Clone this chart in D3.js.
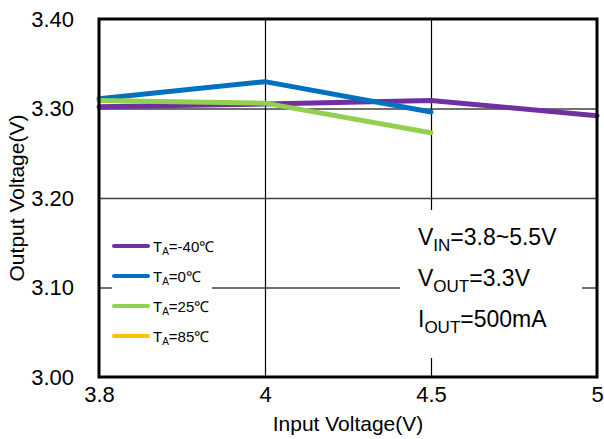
<!DOCTYPE html>
<html>
<head>
<meta charset="utf-8">
<script src="https://cdn.jsdelivr.net/npm/d3@7"></script>
<style>
body{margin:0;background:#fff;}
text{font-family:"Liberation Sans",Arial,sans-serif;fill:#000;}
</style>
</head>
<body>
<svg id="chart"></svg>
<script>
// data
var inputs=["3.8","4","4.5","5"]
var yTicks=[3.00,3.10,3.20,3.30,3.40]
var seriesNames=["-40","0","25","85"]
var seriesColors=["#7030A0","#0070C0","#92D050","#FFC000"]
var tMinus40=[3.302,3.305,3.309,3.292]
var t0=[3.311,3.330,3.296]
var t25=[3.309,3.306,3.273]
var t85=[]
var notes=[["V","IN","=3.8~5.5V"],["V","OUT","=3.3V"],["I","OUT","=500mA"]]

var screen={width:604,height:439}
var margins={left:99,right:7,top:19,bottom:62}
var graph={
    width:screen.width-margins.left-margins.right,
    height:screen.height-margins.top-margins.bottom
}

var svg=d3.select("#chart")
    .attr("width",screen.width)
    .attr("height",screen.height)

var target=svg.append("g")
    .attr("transform","translate("+margins.left+","+margins.top+")")

var xScale=d3.scalePoint()
    .domain(inputs)
    .range([0,graph.width])
var yScale=d3.scaleLinear()
    .domain([3.0,3.4])
    .range([graph.height,0])

// grid
target.append("g")
    .attr("class","ygrid")
    .call(d3.axisLeft(yScale).tickValues(yTicks.slice(1,4)).tickSize(-graph.width).tickFormat(""))
    .call(function(g){g.select(".domain").remove()})
    .selectAll("line").attr("stroke","#404040").attr("stroke-width",1.5)
target.append("g")
    .attr("class","xgrid")
    .attr("transform","translate(0,"+graph.height+")")
    .call(d3.axisBottom(xScale).tickValues(["4","4.5"]).tickSize(-graph.height).tickFormat(""))
    .call(function(g){g.select(".domain").remove()})
    .selectAll("line").attr("stroke","#000").attr("stroke-width",1.2)

// white boxes over the grid
target.append("rect")
    .attr("x",13).attr("y",209).attr("width",100).attr("height",124)
    .attr("fill","#fff")
target.append("rect")
    .attr("x",301).attr("y",191).attr("width",182).attr("height",148)
    .attr("fill","#fff")

// series
var all=[tMinus40,t0,t25,t85]
var line=d3.line()
    .x(function(d,i){return xScale(inputs[i])})
    .y(function(d){return yScale(d)})
all.forEach(function(vals,k){
    if(vals.length==0) return;
    target.append("path")
        .datum(vals)
        .attr("d",line)
        .attr("fill","none")
        .attr("stroke",seriesColors[k])
        .attr("stroke-width",5)
        .attr("stroke-linecap","round")
        .attr("stroke-linejoin","round")
})

// frame
target.append("rect")
    .attr("x",0).attr("y",0)
    .attr("width",graph.width).attr("height",graph.height)
    .attr("fill","none").attr("stroke","#000").attr("stroke-width",3)

// tick labels
var yAxis=target.append("g")
    .call(d3.axisLeft(yScale).tickValues(yTicks).tickSize(0).tickPadding(25).tickFormat(d3.format(".2f")))
yAxis.select(".domain").remove()
yAxis.selectAll(".tick text").style("font-size","22px")

var xAxis=target.append("g")
    .attr("transform","translate(0,"+graph.height+")")
    .call(d3.axisBottom(xScale).tickSize(0).tickPadding(9))
xAxis.select(".domain").remove()
xAxis.selectAll(".tick text").style("font-size","22px")

// axis titles
svg.append("text")
    .text("Input Voltage(V)")
    .attr("text-anchor","middle")
    .attr("x",348).attr("y",431)
    .style("font-size","21px")
svg.append("g")
    .attr("transform","translate(24,198)")
    .append("text")
    .text("Output Voltage(V)")
    .attr("text-anchor","middle")
    .attr("transform","rotate(-90)")
    .style("font-size","21px")

// legend
var legend=target.append("g").attr("transform","translate(15,227)")
seriesNames.forEach(function(n,i){
    var row=legend.append("g").attr("transform","translate(0,"+(i*30)+")")
    row.append("line")
        .attr("x1",0).attr("x2",34).attr("y1",0).attr("y2",0)
        .attr("stroke",seriesColors[i]).attr("stroke-width",4)
        .attr("stroke-linecap","round")
    var t=row.append("text").attr("x",39).attr("y",6)
        .style("font-size","15px")
    t.append("tspan").text("T")
    t.append("tspan").text("A").attr("dy",3).style("font-size","10px")
    t.append("tspan").text("="+n+"\u2103").attr("dy",-3)
})

// condition notes
var noteG=target.append("g").attr("transform","translate(319,226)")
notes.forEach(function(n,i){
    var t=noteG.append("text").attr("x",0).attr("y",i*41)
        .style("font-size","23px")
    t.append("tspan").text(n[0])
    t.append("tspan").text(n[1]).attr("dy",6).style("font-size","17px")
    t.append("tspan").text(n[2]).attr("dy",-6)
})
</script>
</body>
</html>
